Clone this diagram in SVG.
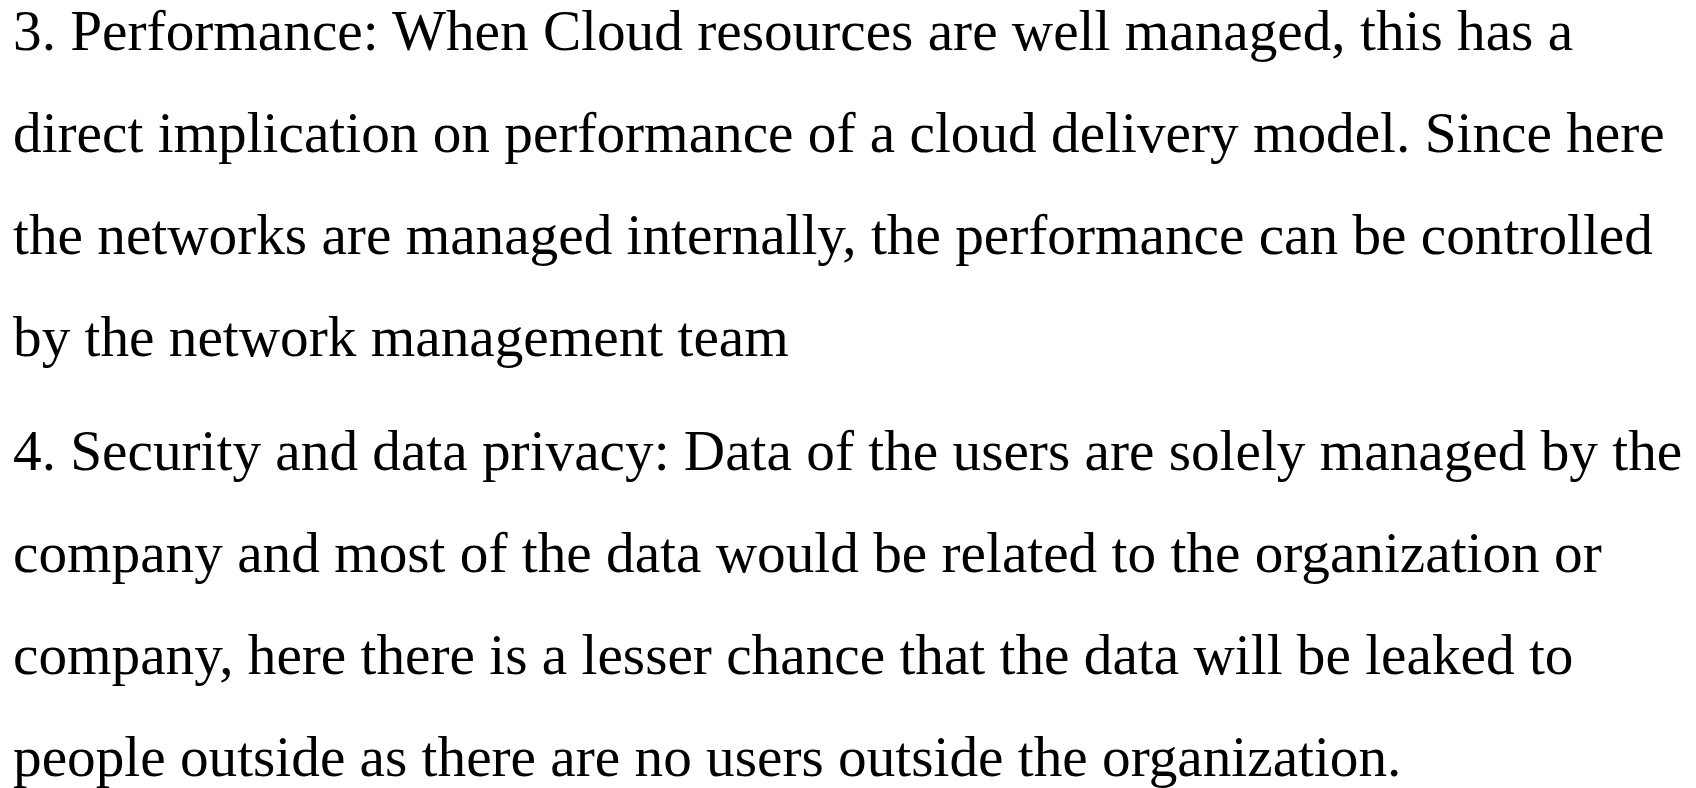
<svg xmlns="http://www.w3.org/2000/svg" width="1696" height="788" viewBox="0 0 1696 788">
  <style>
    .body { font-family: "Liberation Serif", "Times New Roman", serif; font-size: 57.25px; fill: #000; }
  </style>
  <rect width="1696" height="788" fill="#fff"/>
  <g id="item-3" class="body">
    <text x="13" y="50">3. Performance: When Cloud resources are well managed, this has a</text>
    <text x="13" y="152">direct implication on performance of a cloud delivery model. Since here</text>
    <text x="13" y="254">the networks are managed internally, the performance can be controlled</text>
    <text x="13" y="356">by the network management team</text>
  </g>
  <g id="item-4" class="body">
    <text x="13" y="470">4. Security and data privacy: Data of the users are solely managed by the</text>
    <text x="13" y="572">company and most of the data would be related to the organization or</text>
    <text x="13" y="674">company, here there is a lesser chance that the data will be leaked to</text>
    <text x="13" y="776">people outside as there are no users outside the organization.</text>
  </g>
</svg>
